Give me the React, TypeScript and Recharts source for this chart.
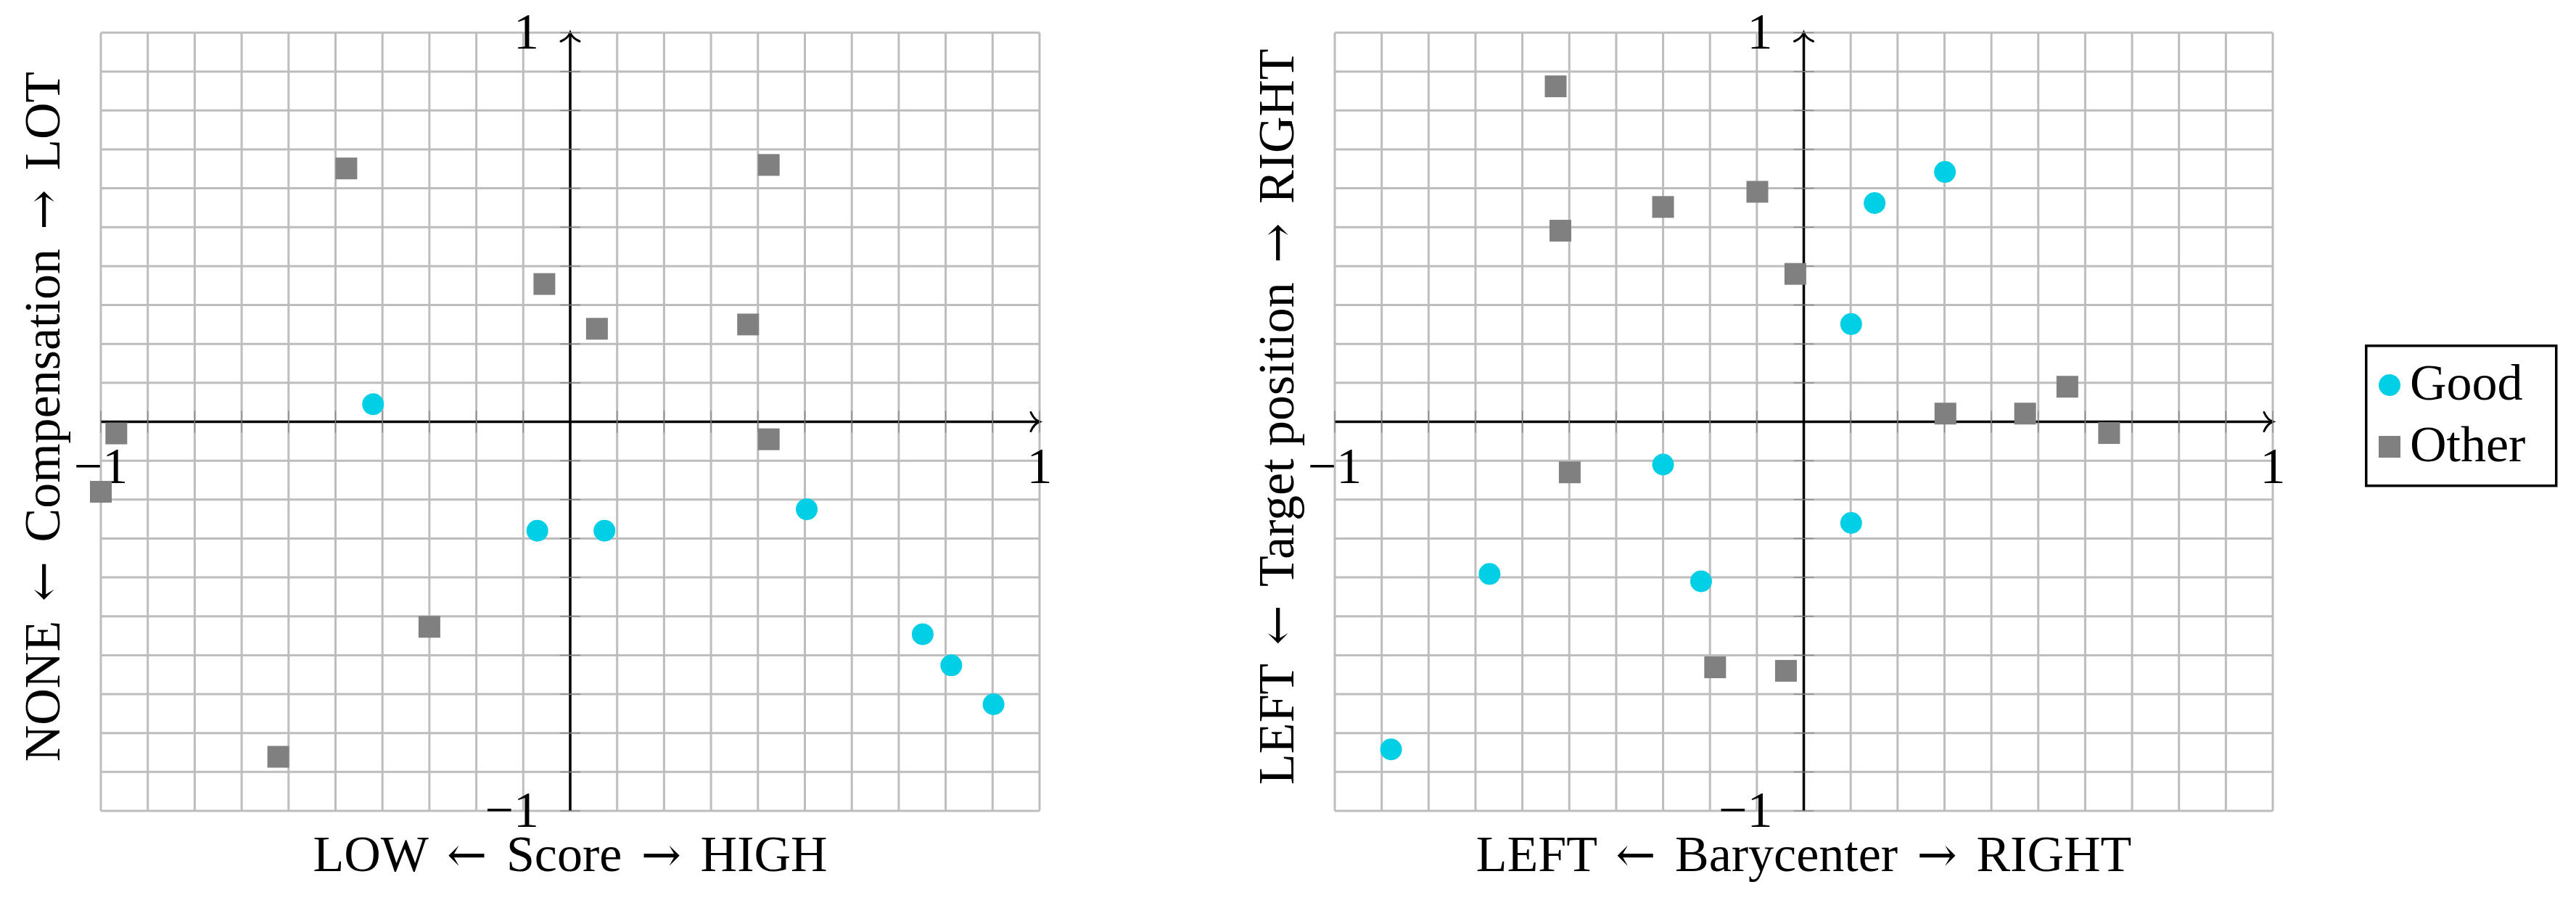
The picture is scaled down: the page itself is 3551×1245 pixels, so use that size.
import React from 'react';
import {
  ScatterChart,
  Scatter,
  XAxis,
  YAxis,
  CartesianGrid,
  ReferenceLine,
  ReferenceDot,
  Legend,
} from 'recharts';

// ---------- data ----------
const GRID_TICKS = [-1, -0.9, -0.8, -0.7, -0.6, -0.5, -0.4, -0.3, -0.2, -0.1, 0, 0.1, 0.2, 0.3, 0.4, 0.5, 0.6, 0.7, 0.8, 0.9, 1];
const AXIS_MARKS = [-1, -0.9, -0.8, -0.7, -0.6, -0.5, -0.4, -0.3, -0.2, -0.1, 0.1, 0.2, 0.3, 0.4, 0.5, 0.6, 0.7, 0.8, 0.9, 1];
const END_LABELS = [
  { v: -1, text: '−1' },
  { v: 1, text: '1' },
];
const SERIES_NAMES = ['Good', 'Other'];

// Left panel: Score (x) vs Compensation (y)
const scoreGood = [
  { x: -0.42, y: 0.045 },
  { x: -0.07, y: -0.28 },
  { x: 0.073, y: -0.28 },
  { x: 0.504, y: -0.225 },
  { x: 0.751, y: -0.546 },
  { x: 0.812, y: -0.626 },
  { x: 0.902, y: -0.726 },
];
const scoreOther = [
  { x: -0.477, y: 0.651 },
  { x: -0.055, y: 0.354 },
  { x: -0.967, y: -0.03 },
  { x: -1.0, y: -0.18 },
  { x: -0.3, y: -0.527 },
  { x: -0.622, y: -0.861 },
  { x: 0.423, y: 0.66 },
  { x: 0.057, y: 0.239 },
  { x: 0.379, y: 0.25 },
  { x: 0.423, y: -0.045 },
];

// Right panel: Barycenter (x) vs Target position (y)
const baryGood = [
  { x: -0.88, y: -0.842 },
  { x: -0.67, y: -0.391 },
  { x: -0.3, y: -0.11 },
  { x: -0.219, y: -0.41 },
  { x: 0.101, y: -0.26 },
  { x: 0.101, y: 0.251 },
  { x: 0.151, y: 0.562 },
  { x: 0.301, y: 0.642 },
];
const baryOther = [
  { x: -0.529, y: 0.862 },
  { x: -0.519, y: 0.491 },
  { x: -0.3, y: 0.552 },
  { x: -0.099, y: 0.591 },
  { x: -0.018, y: 0.38 },
  { x: 0.302, y: 0.021 },
  { x: 0.472, y: 0.021 },
  { x: 0.562, y: 0.09 },
  { x: 0.651, y: -0.029 },
  { x: -0.499, y: -0.13 },
  { x: -0.189, y: -0.631 },
  { x: -0.038, y: -0.64 },
];

const TITLES_LEFT = { x: 'LOW ← Score → HIGH', y: 'NONE ← Compensation → LOT' };
const TITLES_RIGHT = { x: 'LEFT ← Barycenter → RIGHT', y: 'LEFT ← Target position → RIGHT' };

// ---------- style ----------
const FONT = "'Liberation Serif', 'Times New Roman', serif";
const ARROW_FONT = "'DejaVu Serif', serif";
const FONT_SIZE = 70;
const GOOD_COLOR = '#00CFE6';
const OTHER_COLOR = '#808080';
const GRID_COLOR = '#BDBDBD';
const TICK_COLOR = '#8a8a8a';
const ARROW_GAP = 9;

const EmptyTick = () => <g />;

const withArrows = (s: string) => {
  const parts = s.split(/([←→])/);
  return parts.map((part, i) => {
    const isArrow = part === '←' || part === '→';
    const afterArrow = i > 0 && (parts[i - 1] === '←' || parts[i - 1] === '→');
    if (isArrow) {
      return (
        <tspan key={i} dx={ARROW_GAP} style={{ fontFamily: ARROW_FONT, fontSize: 66 }}>
          {part}
        </tspan>
      );
    }
    return (
      <tspan key={i} dx={afterArrow ? ARROW_GAP : 0}>
        {part}
      </tspan>
    );
  });
};

const CircleMark = (p: any) => <circle cx={p.cx} cy={p.cy} r={15} fill={GOOD_COLOR} />;
const SquareMark = (p: any) => (
  <rect x={p.cx - 15} y={p.cy - 15} width={30} height={30} fill={OTHER_COLOR} />
);

const ArrowAxis = (p: any) => {
  const { x1, y1, x2, y2 } = p;
  const ang = (Math.atan2(y2 - y1, x2 - x1) * 180) / Math.PI;
  return (
    <g>
      <line x1={x1} y1={y1} x2={x2} y2={y2} stroke="#000" strokeWidth={3.5} />
      <path
        d="M -12 -13 C -9 -6 -4 -1.5 0 0 C -4 1.5 -9 6 -12 13"
        transform={`translate(${x2},${y2}) rotate(${ang})`}
        fill="none"
        stroke="#000"
        strokeWidth={3}
        strokeLinecap="round"
      />
    </g>
  );
};

const XMark = (p: any) => (
  <line x1={p.cx} x2={p.cx} y1={p.cy - 15} y2={p.cy + 15} stroke={TICK_COLOR} strokeWidth={1.4} />
);
const YMark = (p: any) => (
  <line x1={p.cx - 14} x2={p.cx + 14} y1={p.cy} y2={p.cy} stroke={TICK_COLOR} strokeWidth={1.4} />
);

const textStyle = { fontFamily: FONT, fontSize: FONT_SIZE, fill: '#000' } as const;

const makeXEndLabel = (text: string) => (p: any) => (
  <text x={p.cx} y={p.cy + 84} textAnchor="middle" style={textStyle}>
    {text}
  </text>
);
const makeYEndLabel = (text: string) => (p: any) => (
  <text x={p.cx - 43} y={p.cy + 22} textAnchor="end" style={textStyle}>
    {text}
  </text>
);

const makeXTitle = (title: string) => (p: any) => {
  const vb = p.viewBox || { x: 0, y: 0, width: 0, height: 0 };
  return (
    <text x={vb.x + vb.width / 2} y={vb.y + 83} textAnchor="middle" style={textStyle}>
      {withArrows(title)}
    </text>
  );
};
const makeYTitle = (title: string) => (p: any) => {
  const vb = p.viewBox || { x: 0, y: 0, width: 0, height: 0 };
  const cx = vb.x + 43;
  const cy = vb.y + vb.height / 2 - 7;
  return (
    <text x={cx} y={cy} transform={`rotate(-90, ${cx}, ${cy})`} textAnchor="middle" style={textStyle}>
      {withArrows(title)}
    </text>
  );
};

const LegendBox = (props: any) => {
  const payload = props.payload || [];
  return (
    <svg width={266} height={197} style={{ display: 'block', overflow: 'visible' }}>
      <rect x={1.75} y={1.75} width={262} height={193} fill="#fff" stroke="#000" strokeWidth={3.5} />
      {payload.map((e: any, i: number) => {
        const yc = 56 + i * 85;
        return (
          <g key={e.value}>
            {e.type === 'square' ? (
              <rect x={19} y={yc - 15} width={30} height={30} fill={e.color} />
            ) : (
              <circle cx={34} cy={yc} r={15} fill={e.color} />
            )}
            <text x={62} y={yc + 20} style={textStyle}>
              {e.value}
            </text>
          </g>
        );
      })}
    </svg>
  );
};

type PanelProps = {
  good: { x: number; y: number }[];
  other: { x: number; y: number }[];
  titles: { x: string; y: string };
  left: number;
  width: number;
  margin: { top: number; right: number; bottom: number; left: number };
  legend?: boolean;
};

const Panel = ({ good, other, titles, left, width, margin, legend }: PanelProps) => (
  <div style={{ position: 'absolute', left, top: 0 }}>
    <ScatterChart width={width} height={1245} margin={margin}>
      <CartesianGrid stroke={GRID_COLOR} strokeWidth={3} />
      <XAxis
        type="number"
        dataKey="x"
        domain={[-1, 1]}
        ticks={GRID_TICKS}
        interval={0}
        tick={EmptyTick}
        tickLine={false}
        axisLine={false}
        height={127}
        label={{ content: makeXTitle(titles.x) }}
      />
      <YAxis
        type="number"
        dataKey="y"
        domain={[-1, 1]}
        ticks={GRID_TICKS}
        interval={0}
        tick={EmptyTick}
        tickLine={false}
        axisLine={false}
        width={100}
        label={{ content: makeYTitle(titles.y) }}
      />
      {AXIS_MARKS.map((t) => (
        <ReferenceDot key={`xm${t}`} x={t} y={0} ifOverflow="visible" shape={XMark} />
      ))}
      {AXIS_MARKS.map((t) => (
        <ReferenceDot key={`ym${t}`} x={0} y={t} ifOverflow="visible" shape={YMark} />
      ))}
      <ReferenceLine
        segment={[
          { x: -1, y: 0 },
          { x: 1, y: 0 },
        ]}
        ifOverflow="visible"
        shape={ArrowAxis}
      />
      <ReferenceLine
        segment={[
          { x: 0, y: -1 },
          { x: 0, y: 1 },
        ]}
        ifOverflow="visible"
        shape={ArrowAxis}
      />
      {END_LABELS.map((l) => (
        <ReferenceDot key={`xl${l.v}`} x={l.v} y={0} ifOverflow="visible" shape={makeXEndLabel(l.text)} />
      ))}
      {END_LABELS.map((l) => (
        <ReferenceDot key={`yl${l.v}`} x={0} y={l.v} ifOverflow="visible" shape={makeYEndLabel(l.text)} />
      ))}
      <Scatter
        name={SERIES_NAMES[0]}
        data={good}
        fill={GOOD_COLOR}
        legendType="circle"
        shape={CircleMark}
        isAnimationActive={false}
      />
      <Scatter
        name={SERIES_NAMES[1]}
        data={other}
        fill={OTHER_COLOR}
        legendType="square"
        shape={SquareMark}
        isAnimationActive={false}
      />
      {legend && (
        <Legend
          layout="vertical"
          align="center"
          verticalAlign="middle"
          content={LegendBox}
          wrapperStyle={{ left: 1560, top: 475, width: 266, height: 197 }}
        />
      )}
    </ScatterChart>
  </div>
);

export default function App() {
  return (
    <div style={{ position: 'absolute', left: 0, top: 0, width: 3551, height: 1245, background: '#fff' }}>
      <Panel
        good={scoreGood}
        other={scoreOther}
        titles={TITLES_LEFT}
        left={0}
        width={1480}
        margin={{ top: 45, right: 47, bottom: 0, left: 39 }}
      />
      <Panel
        good={baryGood}
        other={baryOther}
        titles={TITLES_RIGHT}
        left={1700}
        width={1851}
        margin={{ top: 45, right: 418, bottom: 0, left: 40 }}
        legend
      />
    </div>
  );
}
